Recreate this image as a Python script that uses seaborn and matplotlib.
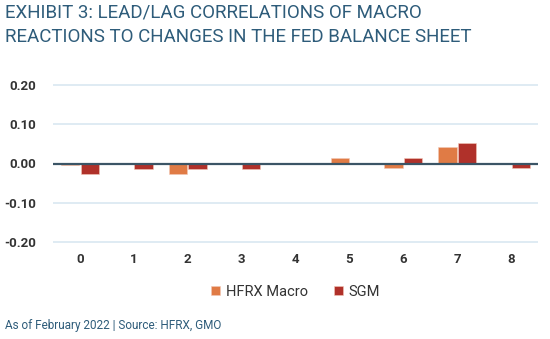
import matplotlib
matplotlib.use("Agg")
import matplotlib.pyplot as plt
import seaborn as sns
import pandas as pd

lags = ["0", "1", "2", "3", "4", "5", "6", "7", "8"]
hfrx_macro = [-0.004, 0.0, -0.027, 0.0, 0.0, 0.013, -0.011, 0.041, 0.0]
sgm = [-0.027, -0.015, -0.015, -0.013, 0.0, 0.0, 0.015, 0.051, -0.011]
series_names = ["HFRX Macro", "SGM"]
yticks = [-0.20, -0.10, 0.00, 0.10, 0.20]

title = "EXHIBIT 3: LEAD/LAG CORRELATIONS OF MACRO\nREACTIONS TO CHANGES IN THE FED BALANCE SHEET"
footer = "As of February 2022 | Source: HFRX, GMO"

df = pd.DataFrame({
    "lag": lags * 2,
    "value": hfrx_macro + sgm,
    "series": [series_names[0]] * len(lags) + [series_names[1]] * len(lags),
})

sns.set_theme(style="white")
plt.rcParams["font.family"] = ["Roboto", "DejaVu Sans"]

fig = plt.figure(figsize=(5.5, 3.39), dpi=100)
ax = fig.add_axes([53/550, 1 - 244.3/339, (538-53)/550, (244.3-82.7)/339])

palette = {"HFRX Macro": "#E07B45", "SGM": "#B0312A"}
sns.barplot(data=df, x="lag", y="value", hue="series", palette=palette,
            width=0.72, gap=0.06, ax=ax, saturation=1, legend=True, zorder=3,
            edgecolor="#F2C9B8", linewidth=0.4)

ax.set_ylim(-0.205, 0.205)
ax.set_xlim(-0.5, 8.5)
ax.set_yticks(yticks)
ax.set_yticklabels([f"{v:.2f}" for v in yticks])
for y in yticks:
    if y != 0:
        ax.axhline(y, color="#D9E7F1", lw=1.2, zorder=1)
ax.axhline(0, color="#3B5566", lw=1.6, zorder=4)
for s in ax.spines.values():
    s.set_visible(False)
ax.set_xlabel("")
ax.set_ylabel("")
ax.tick_params(axis="both", length=0, labelsize=9.5, labelcolor="#333333")
ax.tick_params(axis="y", pad=12)
ax.tick_params(axis="x", pad=6)
for lab in ax.get_xticklabels() + ax.get_yticklabels():
    lab.set_fontweight("bold")

leg = ax.legend(loc="upper center", bbox_to_anchor=(0.5, -0.17), ncol=2, frameon=False,
                handlelength=0.6, handleheight=0.6, handletextpad=0.4, columnspacing=1.8,
                fontsize=10.5)
for t in leg.get_texts():
    t.set_color("#333333")

fig.text(0.009, 0.99, title, ha="left", va="top", fontsize=13.5, color="#2E5C7A",
         linespacing=1.5)
fig.text(0.009, 0.04, footer, ha="left", va="center", fontsize=8.5, color="#2E5C7A")

fig.savefig("out.png", dpi=100)
